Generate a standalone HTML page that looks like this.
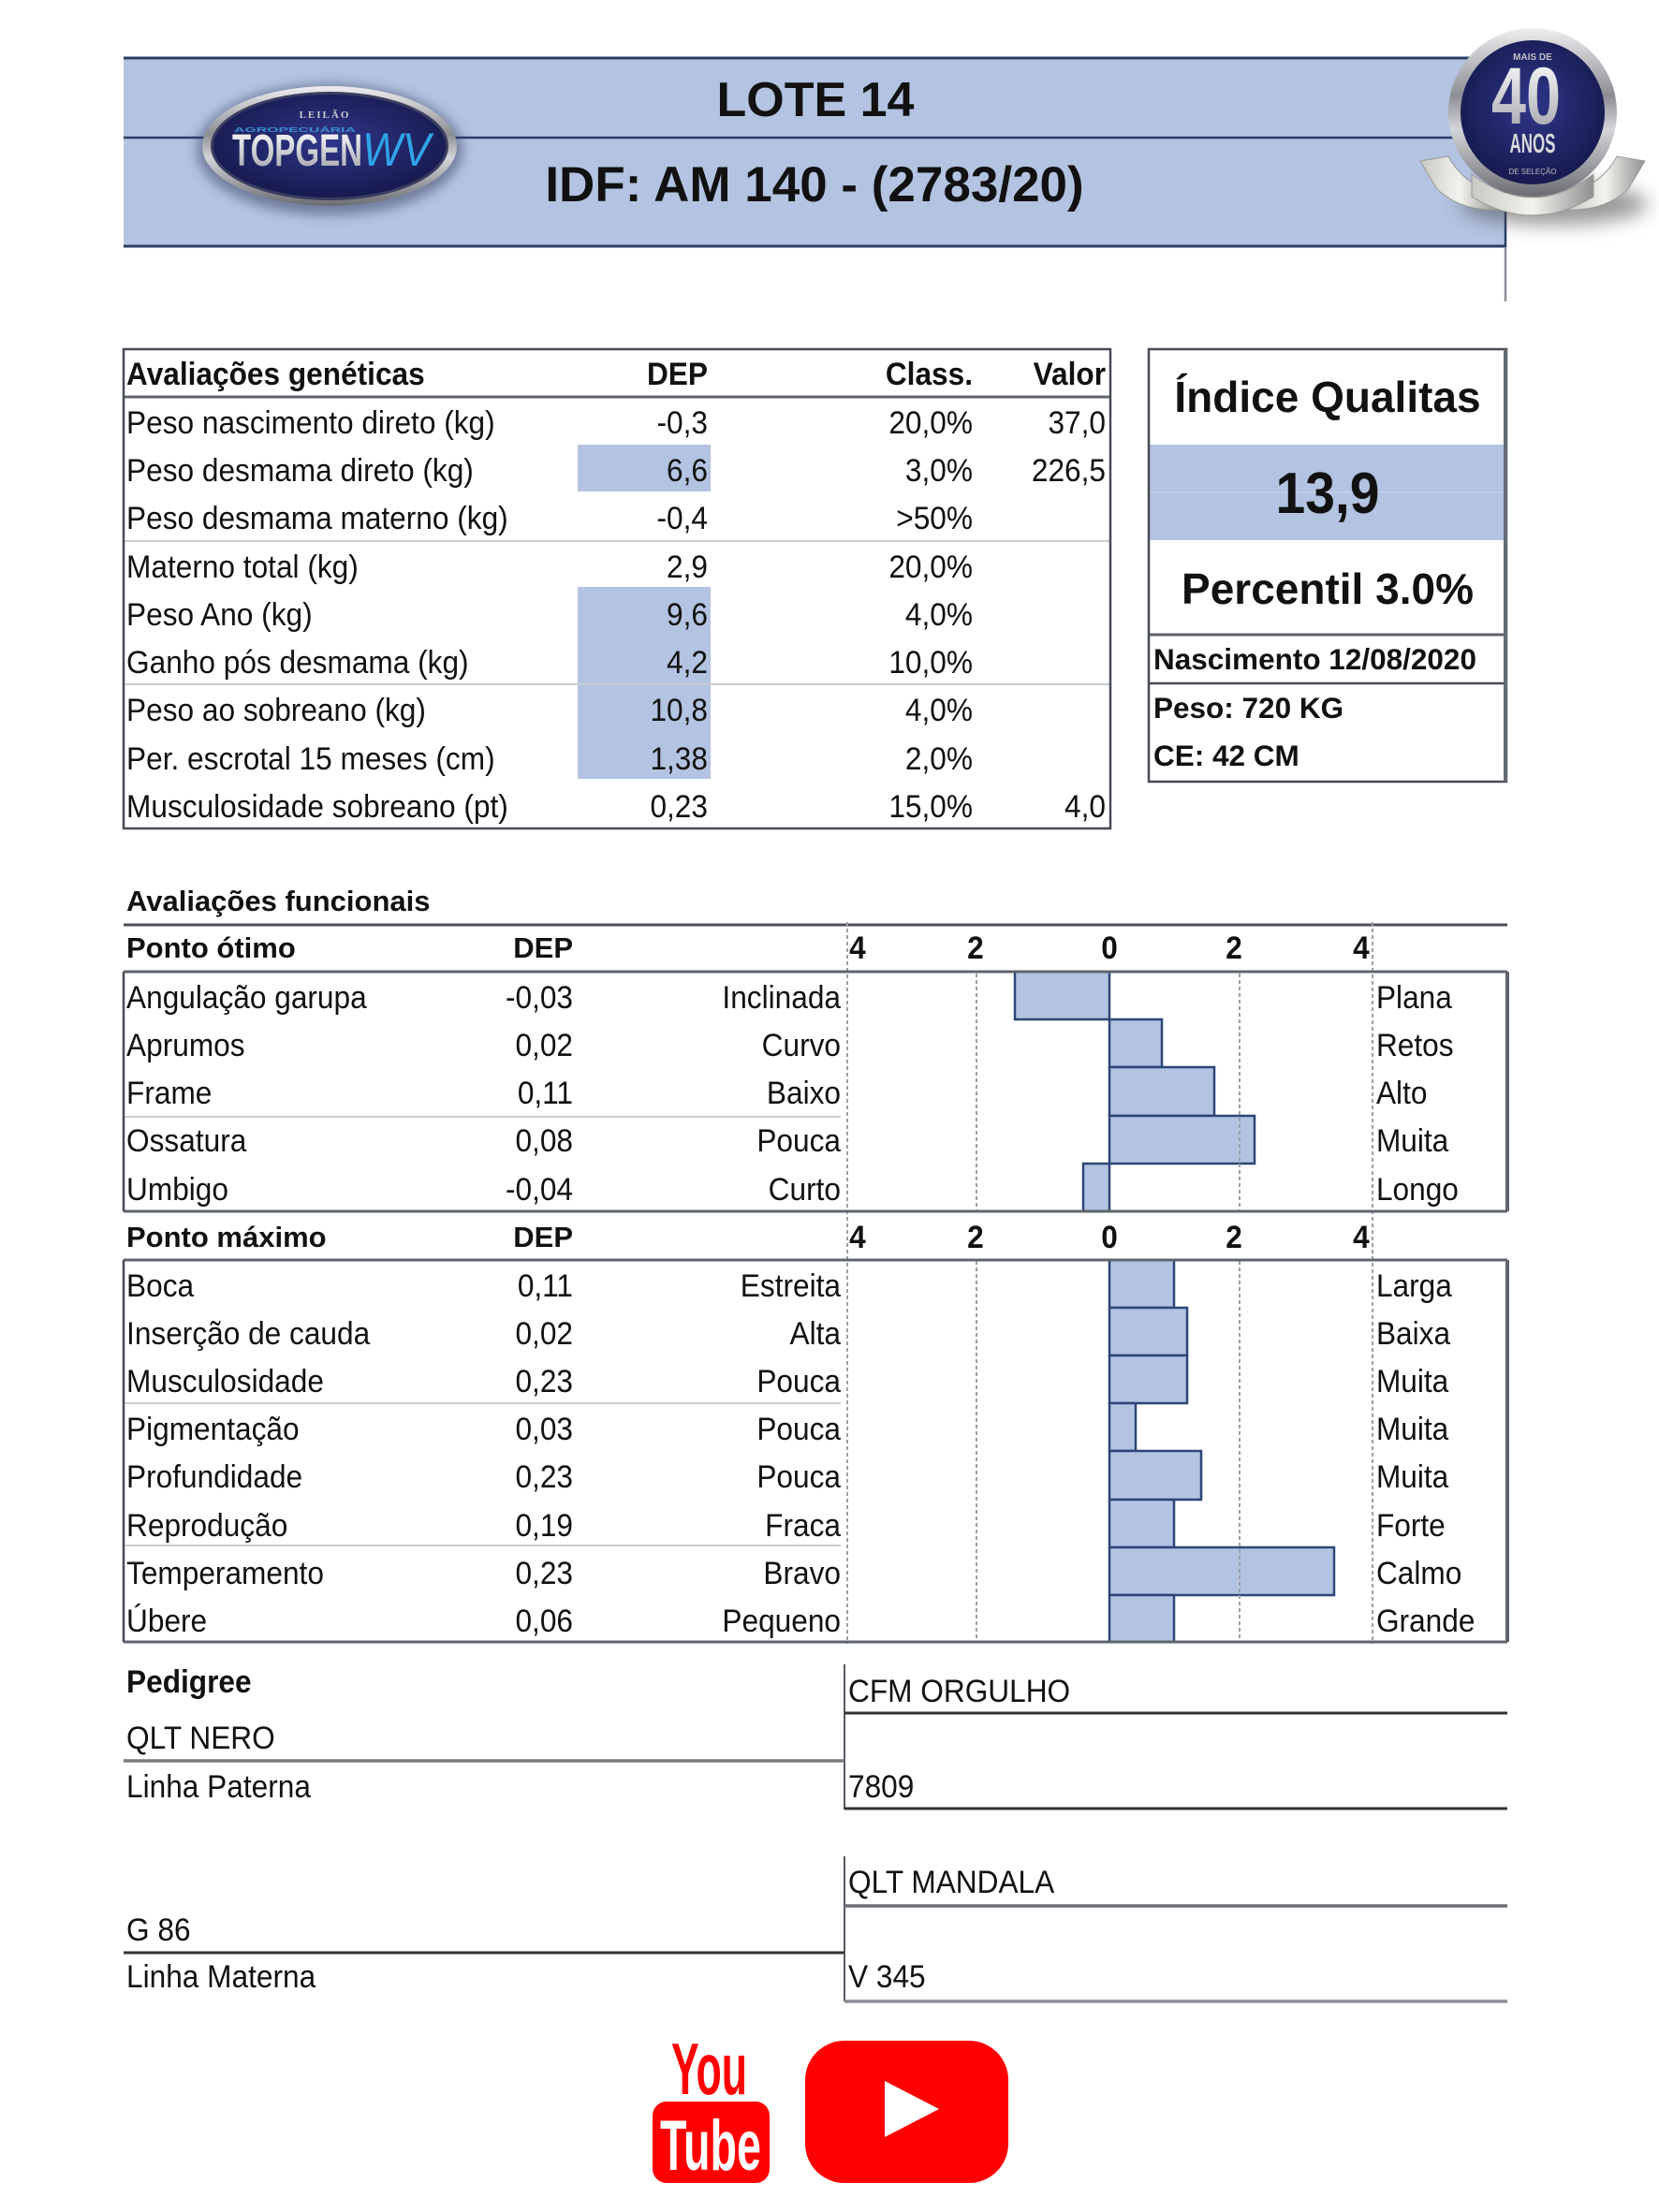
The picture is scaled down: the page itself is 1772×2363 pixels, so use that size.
<!DOCTYPE html>
<html><head><meta charset="utf-8">
<style>
html,body{margin:0;padding:0;background:#fff;}
svg{display:block;}
text{font-family:"Liberation Sans",Arial,sans-serif;fill:#111;}
.b{font-weight:bold;}
</style></head><body>
<svg width="1772" height="2363" viewBox="0 0 1772 2363" xmlns="http://www.w3.org/2000/svg">
<defs>
 <linearGradient id="silver" x1="0" y1="0" x2="0" y2="1">
  <stop offset="0" stop-color="#eeeef0"/><stop offset=".4" stop-color="#8c8e94"/><stop offset=".6" stop-color="#d4d5d8"/><stop offset="1" stop-color="#6a6c72"/>
 </linearGradient>
 <linearGradient id="silverH" x1="0" y1="0" x2="1" y2="0">
  <stop offset="0" stop-color="#c9c9c4"/><stop offset=".5" stop-color="#f2f2ee"/><stop offset="1" stop-color="#8f918f"/>
 </linearGradient>
 <radialGradient id="navy" cx=".5" cy=".45" r=".6">
  <stop offset="0" stop-color="#30368a"/><stop offset="1" stop-color="#15184a"/>
 </radialGradient>
 <linearGradient id="txtsilver" x1="0" y1="0" x2="0" y2="1"><stop offset="0" stop-color="#ffffff"/><stop offset=".5" stop-color="#cfd0d4"/><stop offset="1" stop-color="#9a9ca3"/></linearGradient>
 <filter id="blur6" x="-30%" y="-30%" width="160%" height="160%"><feGaussianBlur stdDeviation="6"/></filter>
 <filter id="blur10" x="-30%" y="-60%" width="160%" height="220%"><feGaussianBlur stdDeviation="10"/></filter>
</defs>

<!-- ===== Banner ===== -->
<rect x="132" y="61" width="1476" height="203" fill="#b3c3e1"/>
<line x1="132" y1="62" x2="1608" y2="62" stroke="#2b3d66" stroke-width="3"/>
<line x1="132" y1="147" x2="1608" y2="147" stroke="#2b3d66" stroke-width="2.5"/>
<line x1="132" y1="263" x2="1608" y2="263" stroke="#2b3d66" stroke-width="3"/>
<line x1="1608" y1="200" x2="1608" y2="264" stroke="#2b3d66" stroke-width="2.5"/>
<line x1="1608" y1="264" x2="1608" y2="322" stroke="#8d939c" stroke-width="2.5"/>

<text class="b" x="871" y="124" font-size="52" text-anchor="middle">LOTE 14</text>
<text class="b" x="870" y="215" font-size="53" text-anchor="middle">IDF: AM 140 - (2783/20)</text>

<!-- Logo -->
<ellipse cx="352" cy="160" rx="142" ry="70" fill="#3d4468" opacity=".55" filter="url(#blur6)"/>
<ellipse cx="352" cy="156" rx="136" ry="64" fill="url(#silver)"/>
<ellipse cx="352" cy="156" rx="127" ry="58" fill="#3a3d60"/>
<ellipse cx="352" cy="156" rx="124" ry="55" fill="url(#navy)"/>
<text x="347" y="126" font-size="11" font-weight="bold" text-anchor="middle" letter-spacing="2" style="font-family:'Liberation Serif',serif;fill:#c8c8cc">LEILÃO</text>
<text x="250" y="141" font-size="7" textLength="130" lengthAdjust="spacingAndGlyphs" style="fill:#3a8fd0" font-weight="bold">AGROPECUÁRIA</text>
<text class="b" x="248" y="177" font-size="48" textLength="139" lengthAdjust="spacingAndGlyphs" style="fill:url(#txtsilver)">TOPGEN</text>
<text x="387" y="177" font-size="50" font-style="italic" textLength="73" lengthAdjust="spacingAndGlyphs" style="fill:#2fa4e7">WV</text>

<!-- 40 anos badge -->
<ellipse cx="1660" cy="218" rx="100" ry="22" fill="#444" opacity=".55" filter="url(#blur10)"/>
<path d="M1517 172 L1547 167 Q1562 196 1597 206 L1602 224 Q1560 226 1535 202 Z" fill="url(#silverH)" stroke="#9a9a96" stroke-width="1"/>
<path d="M1757 172 L1727 167 Q1712 196 1677 206 L1672 224 Q1714 226 1739 202 Z" fill="url(#silverH)" stroke="#9a9a96" stroke-width="1"/>
<path d="M1572 186 Q1637 236 1702 186 L1702 210 Q1637 250 1572 210 Z" fill="url(#silverH)" stroke="#9a9a96" stroke-width="1"/>
<circle cx="1637" cy="120" r="90" fill="url(#silver)"/>
<circle cx="1637" cy="120" r="77" fill="url(#navy)"/>
<text x="1637" y="64" font-size="10" text-anchor="middle" style="fill:#c0c0c6" font-weight="bold">MAIS DE</text>
<text class="b" x="1630" y="132" font-size="86" text-anchor="middle" textLength="74" lengthAdjust="spacingAndGlyphs" style="fill:url(#txtsilver)">40</text>
<text class="b" x="1637" y="163" font-size="29" text-anchor="middle" textLength="49" lengthAdjust="spacingAndGlyphs" style="fill:#d8d8dc">ANOS</text>
<text x="1637" y="186" font-size="8" text-anchor="middle" style="fill:#b8b8be">DE SELEÇÃO</text>

<!-- ===== Genetic table ===== -->
<rect x="617" y="475" width="142" height="50" fill="#b3c3e1"/>
<rect x="617" y="627" width="142" height="205" fill="#b3c3e1"/>
<line x1="132" y1="424" x2="1186" y2="424" stroke="#60656e" stroke-width="3"/>
<line x1="132" y1="578" x2="1186" y2="578" stroke="#c9ccd2" stroke-width="2"/>
<line x1="132" y1="731" x2="1186" y2="731" stroke="#c9ccd2" stroke-width="2"/>
<rect x="132" y="373" width="1054" height="512" fill="none" stroke="#474b55" stroke-width="2.5"/>

<g transform="scale(0.93,1)" font-size="34">
 <text class="b" x="145.2" y="411">Avaliações genéticas</text>
 <text class="b" x="812.9" y="411" text-anchor="end">DEP</text>
 <text class="b" x="1117.2" y="411" text-anchor="end">Class.</text>
 <text class="b" x="1269.9" y="411" text-anchor="end">Valor</text>

 <text x="145.2" y="463">Peso nascimento direto (kg)</text>
 <text x="812.9" y="463" text-anchor="end">-0,3</text>
 <text x="1117.2" y="463" text-anchor="end">20,0%</text>
 <text x="1269.9" y="463" text-anchor="end">37,0</text>

 <text x="145.2" y="514">Peso desmama direto (kg)</text>
 <text x="812.9" y="514" text-anchor="end">6,6</text>
 <text x="1117.2" y="514" text-anchor="end">3,0%</text>
 <text x="1269.9" y="514" text-anchor="end">226,5</text>

 <text x="145.2" y="565">Peso desmama materno (kg)</text>
 <text x="812.9" y="565" text-anchor="end">-0,4</text>
 <text x="1117.2" y="565" text-anchor="end">&gt;50%</text>

 <text x="145.2" y="617">Materno total (kg)</text>
 <text x="812.9" y="617" text-anchor="end">2,9</text>
 <text x="1117.2" y="617" text-anchor="end">20,0%</text>

 <text x="145.2" y="668">Peso Ano (kg)</text>
 <text x="812.9" y="668" text-anchor="end">9,6</text>
 <text x="1117.2" y="668" text-anchor="end">4,0%</text>

 <text x="145.2" y="719">Ganho pós desmama (kg)</text>
 <text x="812.9" y="719" text-anchor="end">4,2</text>
 <text x="1117.2" y="719" text-anchor="end">10,0%</text>

 <text x="145.2" y="770">Peso ao sobreano (kg)</text>
 <text x="812.9" y="770" text-anchor="end">10,8</text>
 <text x="1117.2" y="770" text-anchor="end">4,0%</text>

 <text x="145.2" y="822">Per. escrotal 15 meses (cm)</text>
 <text x="812.9" y="822" text-anchor="end">1,38</text>
 <text x="1117.2" y="822" text-anchor="end">2,0%</text>

 <text x="145.2" y="873">Musculosidade sobreano (pt)</text>
 <text x="812.9" y="873" text-anchor="end">0,23</text>
 <text x="1117.2" y="873" text-anchor="end">15,0%</text>
 <text x="1269.9" y="873" text-anchor="end">4,0</text>
</g>

<!-- ===== Right panel ===== -->
<rect x="1227" y="475" width="382" height="102" fill="#b3c3e1"/>
<line x1="1227" y1="526" x2="1609" y2="526" stroke="#c6d1e8" stroke-width="1.5"/>
<line x1="1227" y1="678" x2="1609" y2="678" stroke="#5c616a" stroke-width="3"/>
<line x1="1227" y1="730" x2="1609" y2="730" stroke="#474b55" stroke-width="2.5"/>
<rect x="1227" y="373" width="382" height="462" fill="none" stroke="#474b55" stroke-width="2.5"/>
<line x1="1608" y1="373" x2="1608" y2="835" stroke="#646972" stroke-width="4"/>

<text class="b" x="1418" y="440" font-size="46" text-anchor="middle">Índice Qualitas</text>
<text class="b" x="1418" y="548" font-size="62" text-anchor="middle" textLength="111" lengthAdjust="spacingAndGlyphs">13,9</text>
<text class="b" x="1418" y="645" font-size="46" text-anchor="middle">Percentil 3.0%</text>
<text class="b" x="1232" y="715" font-size="31.5">Nascimento 12/08/2020</text>
<text class="b" x="1232" y="767" font-size="31.5">Peso: 720 KG</text>
<text class="b" x="1232" y="818" font-size="31.5">CE: 42 CM</text>

<!-- ===== Functional ===== -->
<text class="b" x="135" y="973" font-size="31">Avaliações funcionais</text>
<line x1="132" y1="988" x2="1610" y2="988" stroke="#4a4e57" stroke-width="3"/>

<text class="b" x="135" y="1023" font-size="31">Ponto ótimo</text>
<text class="b" x="612" y="1023" font-size="31" text-anchor="end">DEP</text>
<text class="b" x="135" y="1332" font-size="31">Ponto máximo</text>
<text class="b" x="612" y="1332" font-size="31" text-anchor="end">DEP</text>

<g transform="scale(0.93,1)" font-size="34" font-weight="bold" text-anchor="middle">
 <text x="984.9" y="1024">4</text><text x="1120.4" y="1024">2</text><text x="1274.2" y="1024">0</text><text x="1417.2" y="1024">2</text><text x="1563.4" y="1024">4</text>
 <text x="984.9" y="1333">4</text><text x="1120.4" y="1333">2</text><text x="1274.2" y="1333">0</text><text x="1417.2" y="1333">2</text><text x="1563.4" y="1333">4</text>
</g>

<!-- bars: Ponto otimo -->
<g fill="#b3c3e2" stroke="#2d4677" stroke-width="2.5">
 <rect x="1084" y="1038" width="101" height="51"/>
 <rect x="1185" y="1089" width="56" height="51"/>
 <rect x="1185" y="1140" width="112" height="52"/>
 <rect x="1185" y="1192" width="155" height="51"/>
 <rect x="1157" y="1243" width="28" height="51"/>
</g>
<!-- bars: Ponto maximo -->
<g fill="#b3c3e2" stroke="#2d4677" stroke-width="2.5">
 <rect x="1185" y="1346" width="69" height="51"/>
 <rect x="1185" y="1397" width="83" height="51"/>
 <rect x="1185" y="1448" width="83" height="51"/>
 <rect x="1185" y="1499" width="28" height="51"/>
 <rect x="1185" y="1550" width="98" height="52"/>
 <rect x="1185" y="1602" width="69" height="51"/>
 <rect x="1185" y="1653" width="240" height="51"/>
 <rect x="1185" y="1704" width="69" height="50"/>
</g>

<!-- gridlines -->
<g stroke="#9aa0a8" stroke-width="2" stroke-dasharray="4 3" fill="none">
 <line x1="905" y1="985" x2="905" y2="1756"/>
 <line x1="1466" y1="985" x2="1466" y2="1756"/>
 <line x1="1043" y1="1040" x2="1043" y2="1293"/>
 <line x1="1324" y1="1040" x2="1324" y2="1293"/>
 <line x1="1043" y1="1347" x2="1043" y2="1753"/>
 <line x1="1324" y1="1347" x2="1324" y2="1753"/>
</g>

<!-- separators -->
<line x1="132" y1="1193" x2="898" y2="1193" stroke="#c9ccd2" stroke-width="2"/>
<line x1="132" y1="1499" x2="898" y2="1499" stroke="#c9ccd2" stroke-width="2"/>
<line x1="132" y1="1651" x2="898" y2="1651" stroke="#c9ccd2" stroke-width="2"/>

<!-- box borders -->
<line x1="132" y1="1038" x2="1610" y2="1038" stroke="#5f646d" stroke-width="3"/>
<line x1="132" y1="1294" x2="1610" y2="1294" stroke="#5f646d" stroke-width="3"/>
<line x1="132" y1="1038" x2="132" y2="1294" stroke="#474b55" stroke-width="2.5"/>
<line x1="1610" y1="1038" x2="1610" y2="1294" stroke="#5f646d" stroke-width="4"/>
<line x1="132" y1="1346" x2="1610" y2="1346" stroke="#5f646d" stroke-width="3"/>
<line x1="132" y1="1754" x2="1610" y2="1754" stroke="#5f646d" stroke-width="3"/>
<line x1="132" y1="1346" x2="132" y2="1754" stroke="#474b55" stroke-width="2.5"/>
<line x1="1610" y1="1346" x2="1610" y2="1754" stroke="#5f646d" stroke-width="4"/>

<g transform="scale(0.93,1)" font-size="34">
 <text x="145.2" y="1077">Angulação garupa</text><text x="658.1" y="1077" text-anchor="end">-0,03</text><text x="965.6" y="1077" text-anchor="end">Inclinada</text><text x="1580.6" y="1077">Plana</text>
 <text x="145.2" y="1128">Aprumos</text><text x="658.1" y="1128" text-anchor="end">0,02</text><text x="965.6" y="1128" text-anchor="end">Curvo</text><text x="1580.6" y="1128">Retos</text>
 <text x="145.2" y="1179">Frame</text><text x="658.1" y="1179" text-anchor="end">0,11</text><text x="965.6" y="1179" text-anchor="end">Baixo</text><text x="1580.6" y="1179">Alto</text>
 <text x="145.2" y="1230">Ossatura</text><text x="658.1" y="1230" text-anchor="end">0,08</text><text x="965.6" y="1230" text-anchor="end">Pouca</text><text x="1580.6" y="1230">Muita</text>
 <text x="145.2" y="1282">Umbigo</text><text x="658.1" y="1282" text-anchor="end">-0,04</text><text x="965.6" y="1282" text-anchor="end">Curto</text><text x="1580.6" y="1282">Longo</text>

 <text x="145.2" y="1385">Boca</text><text x="658.1" y="1385" text-anchor="end">0,11</text><text x="965.6" y="1385" text-anchor="end">Estreita</text><text x="1580.6" y="1385">Larga</text>
 <text x="145.2" y="1436">Inserção de cauda</text><text x="658.1" y="1436" text-anchor="end">0,02</text><text x="965.6" y="1436" text-anchor="end">Alta</text><text x="1580.6" y="1436">Baixa</text>
 <text x="145.2" y="1487">Musculosidade</text><text x="658.1" y="1487" text-anchor="end">0,23</text><text x="965.6" y="1487" text-anchor="end">Pouca</text><text x="1580.6" y="1487">Muita</text>
 <text x="145.2" y="1538">Pigmentação</text><text x="658.1" y="1538" text-anchor="end">0,03</text><text x="965.6" y="1538" text-anchor="end">Pouca</text><text x="1580.6" y="1538">Muita</text>
 <text x="145.2" y="1589">Profundidade</text><text x="658.1" y="1589" text-anchor="end">0,23</text><text x="965.6" y="1589" text-anchor="end">Pouca</text><text x="1580.6" y="1589">Muita</text>
 <text x="145.2" y="1641">Reprodução</text><text x="658.1" y="1641" text-anchor="end">0,19</text><text x="965.6" y="1641" text-anchor="end">Fraca</text><text x="1580.6" y="1641">Forte</text>
 <text x="145.2" y="1692">Temperamento</text><text x="658.1" y="1692" text-anchor="end">0,23</text><text x="965.6" y="1692" text-anchor="end">Bravo</text><text x="1580.6" y="1692">Calmo</text>
 <text x="145.2" y="1743">Úbere</text><text x="658.1" y="1743" text-anchor="end">0,06</text><text x="965.6" y="1743" text-anchor="end">Pequeno</text><text x="1580.6" y="1743">Grande</text>
</g>

<!-- ===== Pedigree ===== -->
<line x1="902" y1="1778" x2="902" y2="1933" stroke="#555a62" stroke-width="2"/>
<line x1="902" y1="1830" x2="1610" y2="1830" stroke="#333" stroke-width="3"/>
<line x1="132" y1="1881" x2="902" y2="1881" stroke="#7a7d82" stroke-width="3.5"/>
<line x1="902" y1="1932" x2="1610" y2="1932" stroke="#333" stroke-width="3"/>
<line x1="902" y1="1983" x2="902" y2="2138" stroke="#555a62" stroke-width="2"/>
<line x1="902" y1="2036" x2="1610" y2="2036" stroke="#6c6f74" stroke-width="3.5"/>
<line x1="132" y1="2086" x2="902" y2="2086" stroke="#333" stroke-width="3"/>
<line x1="902" y1="2138" x2="1610" y2="2138" stroke="#8a8d92" stroke-width="3.5"/>

<g transform="scale(0.93,1)" font-size="34">
 <text class="b" x="145.2" y="1808">Pedigree</text>
 <text x="974.2" y="1818">CFM ORGULHO</text>
 <text x="145.2" y="1868">QLT NERO</text>
 <text x="145.2" y="1920">Linha Paterna</text>
 <text x="974.2" y="1920">7809</text>
 <text x="974.2" y="2022">QLT MANDALA</text>
 <text x="145.2" y="2073">G 86</text>
 <text x="145.2" y="2123">Linha Materna</text>
 <text x="974.2" y="2123">V 345</text>
</g>

<!-- ===== YouTube ===== -->
<text class="b" x="717" y="2237" font-size="78" textLength="81" lengthAdjust="spacingAndGlyphs" style="fill:#ff0000">You</text>
<rect x="697" y="2245" width="125" height="87" rx="15" ry="15" fill="#ff0000"/>
<text class="b" x="705" y="2318" font-size="76" textLength="108" lengthAdjust="spacingAndGlyphs" style="fill:#ffffff">Tube</text>
<rect x="860" y="2180" width="217" height="152" rx="42" ry="42" fill="#ff0000"/>
<polygon points="945,2223 945,2283 1003,2253" fill="#ffffff"/>
</svg>
</body></html>
